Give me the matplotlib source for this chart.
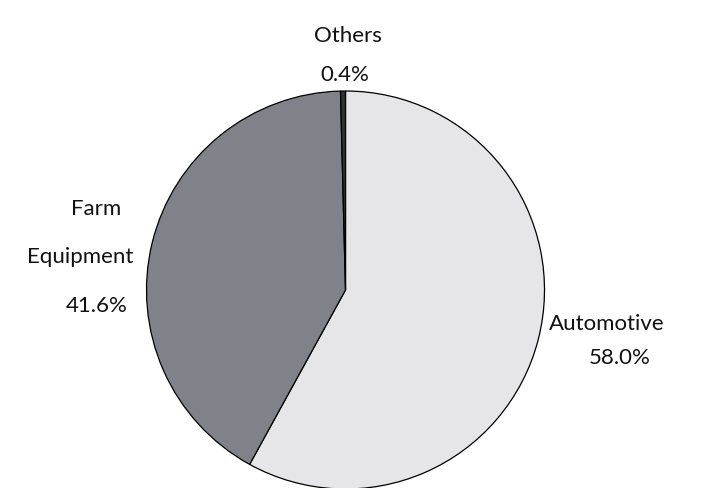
import matplotlib
matplotlib.use("Agg")
import matplotlib.pyplot as plt

categories = ["Automotive", "Farm Equipment", "Others"]
shares = [58.0, 41.6, 0.4]
colors = ["#e6e6e8", "#7f8288", "#333333"]

W, H = 701, 489
fig = plt.figure(figsize=(W / 100, H / 100), dpi=100)
ax = fig.add_axes([0, 0, 1, 1])

cx, cy, r = 345.5, H - 291, 199
ax.pie(shares, colors=colors, startangle=90, counterclock=False,
       center=(cx, cy), radius=r, frame=True,
       wedgeprops=dict(edgecolor="black", linewidth=0.9))
ax.set_xlim(0, W)
ax.set_ylim(0, H)
ax.set_aspect("equal")
ax.axis("off")

font = dict(family=["Lato", "DejaVu Sans"], fontsize=16, color="#111111")

def pct(v):
    return f"{v:.1f}%"

# Automotive, right of the pie
ax.text(549, H - 324, categories[0], ha="left", va="center", **font)
ax.text(651, H - 358, pct(shares[0]), ha="right", va="center", **font)

# Farm Equipment, left of the pie
farm_words = categories[1].split(" ")
ax.text(96, H - 209, farm_words[0], ha="center", va="center", **font)
ax.text(80, H - 257, farm_words[1], ha="center", va="center", **font)
ax.text(97, H - 306, pct(shares[1]), ha="center", va="center", **font)

# Others, above the pie
ax.text(348, H - 36, categories[2], ha="center", va="center", **font)
ax.text(345, H - 75, pct(shares[2]), ha="center", va="center", **font)

fig.savefig("out.png", dpi=100)
